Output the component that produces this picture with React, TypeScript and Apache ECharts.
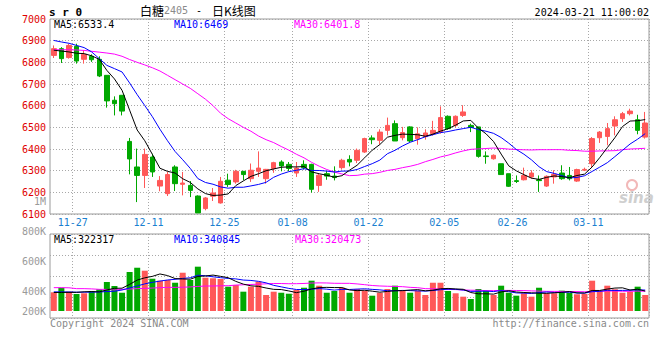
import React, { useEffect, useRef } from "react";
import * as echarts from "echarts";

// ---------- data ----------
const dates = [
  "11-23","11-24","11-27","11-28","11-29","11-30",
  "12-01","12-04","12-05","12-06","12-07","12-08","12-11","12-12","12-13","12-14","12-15","12-18","12-19","12-20","12-21","12-22","12-25","12-26","12-27","12-28","12-29",
  "01-02","01-03","01-04","01-05","01-08","01-09","01-10","01-11","01-12","01-15","01-16","01-17","01-18","01-19","01-22","01-23","01-24","01-25","01-26","01-29","01-30","01-31",
  "02-01","02-02","02-05","02-06","02-07","02-08","02-19","02-20","02-21","02-22","02-23","02-26","02-27","02-28","02-29",
  "03-01","03-04","03-05","03-06","03-07","03-08","03-11","03-12","03-13","03-14","03-15","03-18","03-19","03-20","03-21",
];

const opens = [
  6832,6863,6822,6874,6814,6828,6814,6740,6625,6648,
  6435,6317,6278,6363,6229,6194,6317,6237,6232,6183,
  6125,6182,6151,6256,6248,6297,6263,6297,6263,6310,
  6340,6329,6289,6329,6329,6232,6286,6275,6314,6352,
  6348,6386,6451,6440,6486,6517,6452,6502,6447,6457,
  6471,6478,6551,6509,6555,6509,6502,6368,6355,6332,
  6286,6254,6258,6271,6258,6229,6271,6289,6278,6252,
  6302,6332,6452,6458,6506,6540,6563,6535,6455,
];
const closes = [
  6863,6817,6878,6806,6837,6812,6737,6622,6609,6575,
  6354,6278,6375,6294,6255,6282,6240,6243,6209,6105,
  6174,6197,6251,6236,6297,6282,6302,6312,6306,6337,
  6322,6310,6312,6314,6214,6279,6275,6268,6348,6340,
  6394,6448,6443,6478,6509,6437,6476,6437,6470,6474,
  6486,6545,6494,6551,6571,6499,6366,6365,6371,6282,
  6228,6250,6278,6289,6254,6274,6283,6263,6263,6305,
  6306,6448,6478,6494,6535,6563,6575,6486,6520,
];
const highs = [
  6878,6870,6886,6886,6855,6837,6828,6740,6643,6648,
  6451,6402,6402,6378,6275,6294,6325,6294,6252,6186,
  6178,6220,6271,6286,6304,6298,6333,6389,6308,6341,
  6348,6340,6340,6348,6332,6286,6298,6320,6355,6371,
  6402,6452,6463,6491,6545,6532,6502,6505,6500,6491,
  6530,6597,6555,6555,6602,6517,6502,6389,6375,6332,
  6286,6278,6314,6302,6278,6278,6302,6325,6317,6309,
  6314,6455,6483,6520,6551,6571,6586,6558,6571,
];
const lows = [
  6820,6797,6817,6794,6794,6802,6732,6591,6555,6555,
  6283,6155,6220,6271,6205,6183,6206,6186,6178,6105,
  6117,6160,6148,6225,6240,6256,6248,6271,6240,6290,
  6297,6298,6271,6305,6199,6202,6258,6255,6305,6320,
  6335,6382,6422,6420,6463,6437,6440,6432,6420,6443,
  6462,6471,6489,6500,6548,6478,6360,6332,6351,6280,
  6225,6243,6255,6263,6202,6225,6240,6258,6255,6248,
  6298,6314,6428,6417,6463,6525,6555,6468,6448,
];
const volumes = [
  303000,377000,313000,275000,287000,324000,352000,470000,405000,296000,
  632000,701000,653000,523000,491000,502000,458000,620000,502000,718000,
  539000,530000,518000,394000,421000,313000,394000,475000,259000,313000,
  296000,280000,340000,377000,491000,410000,296000,324000,377000,296000,
  356000,329000,248000,296000,356000,410000,340000,296000,329000,259000,
  458000,458000,324000,287000,232000,194000,356000,324000,259000,410000,
  296000,248000,287000,232000,377000,287000,287000,329000,296000,271000,
  275000,491000,329000,410000,352000,296000,313000,394000,259000,
];

// moving-average values before enough history is visible
const ma5Head = [6856, 6852, 6848, 6842];
const ma10Head = [6901, 6894, 6888, 6878, 6868, 6848, 6817, 6786, 6771];
const ma30Head = [
  6858,6858,6858,6857,6855,6851,6847,6843,6838,6828,6813,6800,6788,6775,6760,
  6740,6720,6700,6680,6655,6630,6600,6565,6540,6520,6500,6482,6460,6443,
];
const vma5Head = [300000, 300000, 302000, 302000];
const vma10Head = [310000, 310000, 308000, 305000, 305000, 305000, 308000, 315000, 320000];
const vma30Head = [
  378000,378000,376000,362000,362000,358000,351000,350000,340000,352000,
  356000,362000,367000,372000,378000,383000,383000,385000,390000,398000,
  405000,405000,408000,410000,420000,425000,430000,435000,440000,
];

const labelDates = ["11-27", "12-11", "12-25", "01-08", "01-22", "02-05", "02-26", "03-11"];
const priceMin = 6100;
const priceMax = 7000;
const priceStep = 100;
const volLabelMin = 200000;
const volLabelMax = 1000000;
const volLabelStep = 200000;

const priceMaText = ["MA5:6533.4", "MA10:6469", "MA30:6401.8"];
const volMaText = ["MA5:322317", "MA10:340845", "MA30:320473"];
const titleCode = "s r 0";
const titleName = "白糖";
const titleContract = "2405";
const titleKind = "日K线图";
const stamp = "2024-03-21 11:00:02";
const copyright = "Copyright 2024 SINA.COM";
const siteUrl = "http://finance.sina.com.cn";

// ---------- helpers ----------
function movingAverage(values: number[], n: number, head: number[]) {
  return values.map((_, i) => {
    if (i < n - 1) return head[i];
    let s = 0;
    for (let k = i - n + 1; k <= i; k++) s += values[k];
    return Math.round((s / n) * 10) / 10;
  });
}

const MONO = '"DejaVu Sans Mono", "Liberation Mono", monospace';
const CJK = '"Noto Sans CJK SC", sans-serif';
const RED = "#ff5858";
const GREEN = "#00a800";
const GRID_C = "#a8a8a8";
const BORDER_C = "#9a9a9a";

function txt(x: number, y: number, text: string, font: string, fill: string, align = "left") {
  return {
    type: "text",
    x,
    y,
    silent: true,
    style: {
      text,
      font,
      fill,
      align,
      textAlign: align,
      verticalAlign: "middle",
      textVerticalAlign: "middle",
    },
  };
}

export default function App() {
  const ref = useRef<HTMLDivElement>(null);

  useEffect(() => {
    if (!ref.current) return;
    const chart = echarts.init(ref.current, null, { renderer: "svg" });

    const n = dates.length;
    const plotW = 599;
    const band = plotW / n;
    const labelIdx = new Set(labelDates.map((d) => dates.indexOf(d)));

    const ma5 = movingAverage(closes, 5, ma5Head);
    const ma10 = movingAverage(closes, 10, ma10Head);
    const ma30 = movingAverage(closes, 30, ma30Head);
    const vma5 = movingAverage(volumes, 5, vma5Head);
    const vma10 = movingAverage(volumes, 10, vma10Head);
    const vma30 = movingAverage(volumes, 30, vma30Head);

    // volume scale: 0 sits 7px above the panel's bottom line
    const volPerPx = 16200;
    const volMin = -7 * volPerPx;
    const volMax = 77 * volPerPx;
    const volInterval = 21 * volPerPx;

    const splitX = {
      show: true,
      interval: (i: number) => labelIdx.has(i - 1),
      lineStyle: { color: GRID_C, type: [1, 2], width: 1 },
    };

    const lineSeries = (data: number[], color: string, xi: number, yi: number) => ({
      type: "line",
      data,
      xAxisIndex: xi,
      yAxisIndex: yi,
      symbol: "none",
      silent: true,
      z: 4,
      lineStyle: { color, width: 1 },
    });

    const option: any = {
      animation: false,
      backgroundColor: "#ffffff",
      grid: [
        { left: 50, top: 19, width: plotW, height: 195, show: true, borderColor: BORDER_C, borderWidth: 1, outerBoundsMode: "none", containLabel: false },
        { left: 50, top: 234, width: plotW, height: 84, show: true, borderColor: BORDER_C, borderWidth: 1, outerBoundsMode: "none", containLabel: false },
        { left: 50, top: 201, width: plotW, height: 120, show: false, outerBoundsMode: "none", containLabel: false },
      ],
      xAxis: [
        {
          type: "category",
          gridIndex: 0,
          data: dates,
          boundaryGap: true,
          axisLine: { show: false },
          axisTick: { show: false },
          axisLabel: {
            interval: (i: number) => labelIdx.has(i),
            color: "#1a7fd0",
            fontFamily: MONO,
            fontSize: 10,
            margin: 3,
            padding: [0, 0, 0, band],
          },
          splitLine: splitX,
        },
        {
          type: "category",
          gridIndex: 1,
          data: dates,
          boundaryGap: true,
          axisLine: { show: false },
          axisTick: { show: false },
          axisLabel: { show: false },
          splitLine: splitX,
        },
        { type: "value", gridIndex: 2, show: false },
      ],
      yAxis: [
        {
          type: "value",
          gridIndex: 0,
          min: priceMin,
          max: priceMax,
          interval: priceStep,
          axisLine: { show: false },
          axisTick: { show: false },
          axisLabel: {
            color: "#e00000",
            fontFamily: MONO,
            fontSize: 10,
            lineHeight: 9,
            margin: 4,
            padding: [0, 0, 4, 0],
            formatter: (v: number) => String(v),
          },
          splitLine: { show: true, lineStyle: { color: GRID_C, type: [1, 2], width: 1 } },
        },
        {
          type: "value",
          gridIndex: 1,
          min: volMin,
          max: volMax,
          interval: volInterval,
          axisLine: { show: false },
          axisTick: { show: false },
          axisLabel: { show: false },
          splitLine: { show: true, lineStyle: { color: GRID_C, type: [1, 2], width: 1 } },
        },
        {
          type: "value",
          gridIndex: 2,
          min: volLabelMin,
          max: volLabelMax,
          interval: volLabelStep,
          axisLine: { show: false },
          axisTick: { show: false },
          splitLine: { show: false },
          axisLabel: {
            color: "#9a9a9a",
            fontFamily: MONO,
            fontSize: 10,
            lineHeight: 9,
            margin: 4,
            formatter: (v: number) => {
              const s = v >= 1000000 ? v / 1000000 + "M" : v / 1000 + "K";
              return v === volLabelMin ? "{lift|" + s + "}" : s;
            },
            rich: {
              lift: { color: "#9a9a9a", fontFamily: MONO, fontSize: 10, lineHeight: 9, padding: [0, 0, 20, 0] },
            },
          },
        },
      ],
      series: [
        {
          type: "candlestick",
          xAxisIndex: 0,
          yAxisIndex: 0,
          barWidth: 5,
          silent: true,
          data: dates.map((_, i) => [opens[i], closes[i], lows[i], highs[i]]),
          itemStyle: { color: RED, color0: GREEN, borderColor: RED, borderColor0: GREEN, borderWidth: 1 },
        },
        lineSeries(ma30, "#ff00ff", 0, 0),
        lineSeries(ma10, "#0000ff", 0, 0),
        lineSeries(ma5, "#000000", 0, 0),
        {
          type: "bar",
          xAxisIndex: 1,
          yAxisIndex: 1,
          barWidth: 6,
          silent: true,
          data: volumes.map((v, i) => ({
            value: v,
            itemStyle: { color: closes[i] >= opens[i] ? RED : GREEN },
          })),
        },
        lineSeries(vma30, "#ff00ff", 1, 1),
        lineSeries(vma10, "#0000ff", 1, 1),
        lineSeries(vma5, "#000000", 1, 1),
      ],
      graphic: [
        txt(49, 12, titleCode, 'bold 11px "DejaVu Sans Mono"', "#000"),
        txt(140, 10, titleName, "12px " + CJK, "#000"),
        txt(164, 10, titleContract, "10px " + MONO, "#8a8a8a"),
        txt(196, 10, "-", "10px " + MONO, "#000"),
        txt(212, 10, titleKind, "12px " + CJK, "#000"),
        txt(649, 12, stamp, "10px " + MONO, "#000", "right"),
        txt(54, 24, priceMaText[0], "10px " + MONO, "#000"),
        txt(174, 24, priceMaText[1], "10px " + MONO, "#0000ff"),
        txt(294, 24, priceMaText[2], "10px " + MONO, "#ff00ff"),
        txt(54, 239, volMaText[0], "10px " + MONO, "#000"),
        txt(174, 239, volMaText[1], "10px " + MONO, "#0000ff"),
        txt(295, 239, volMaText[2], "10px " + MONO, "#ff00ff"),
        txt(50, 323, copyright, "10px " + MONO, "#8a8a8a"),
        txt(649, 323, siteUrl, "10px " + MONO, "#8a8a8a", "right"),
        {
          type: "circle",
          silent: true,
          shape: { cx: 632, cy: 185, r: 5 },
          style: { fill: "none", stroke: "#f2b8b8", lineWidth: 2 },
        },
        txt(619, 198, "sina", 'italic bold 15px "DejaVu Sans"', "#cfcfcf"),
      ],
    };

    chart.setOption(option);
    return () => chart.dispose();
  }, []);

  return (
    <div
      ref={ref}
      style={{ position: "fixed", left: 0, top: 0, width: 660, height: 360, background: "#fff" }}
    />
  );
}
